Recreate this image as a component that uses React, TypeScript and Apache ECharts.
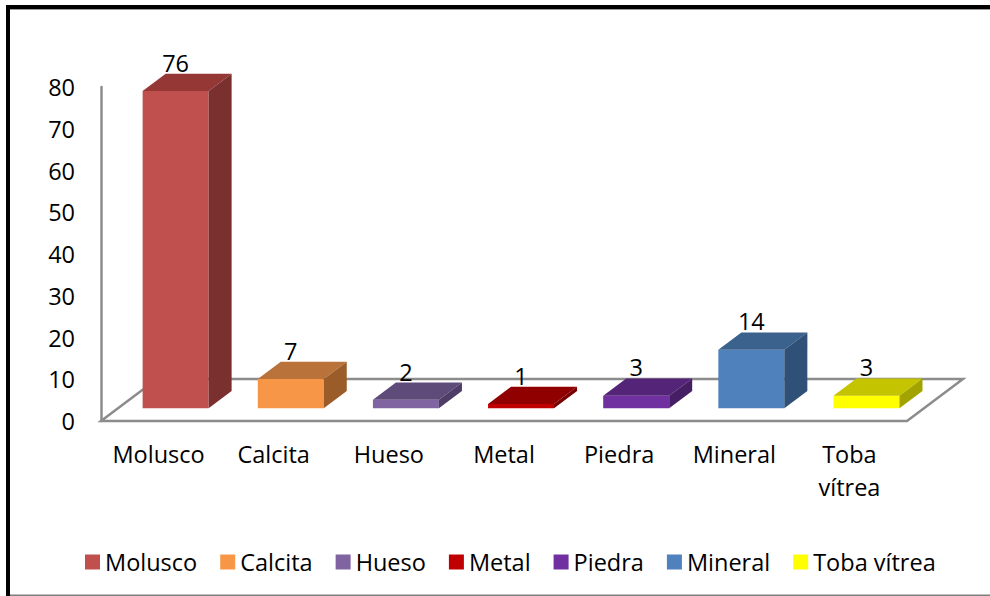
import React, { useEffect, useRef } from "react";
import * as echarts from "echarts";

const categories = ["Molusco", "Calcita", "Hueso", "Metal", "Piedra", "Mineral", "Toba vítrea"];
const values = [76, 7, 2, 1, 3, 14, 3];
const yTicks = { min: 0, max: 80, interval: 10 };

const frontColors = ["#C0504D", "#F79646", "#8064A2", "#C00000", "#7030A0", "#4F81BD", "#FFFF00"];
const topColors = ["#953735", "#B9733A", "#5F4B7A", "#900000", "#542478", "#3B618D", "#C4C400"];
const sideColors = ["#7A302F", "#9A5C29", "#4E3D66", "#780000", "#451E63", "#2F5177", "#A3A300"];

const FONT = "Open Sans";
const FS = 23.5;

export default function App() {
  const ref = useRef<HTMLDivElement>(null);
  useEffect(() => {
    if (!ref.current) return;
    const chart = echarts.init(ref.current, null, { renderer: "svg" });
    const n = categories.length;

    const barSeries = categories.map((name, i) => ({
      type: "custom",
      name,
      color: frontColors[i],
      itemStyle: { color: frontColors[i] },
      z: 3,
      data: [[i, values[i]]],
      renderItem: (params: any, api: any) => {
        const idx = api.value(0);
        const v = api.value(1);
        const c = api.coord([idx, v]);
        const base = api.coord([idx, 0]);
        const band = api.size([1, 0])[0];
        const w = band * 0.573;
        const shift = band * 0.148;
        const shiftY = shift * 0.75;
        const depth = band * 0.2;
        const dD = depth * 0.75;
        const cx = c[0] + shift;
        const x0 = cx - w / 2;
        const x1 = cx + w / 2;
        const yb = base[1] - shiftY;
        const yt = c[1] - shiftY;
        return {
          type: "group",
          children: [
            { type: "rect", shape: { x: x0, y: yt, width: w, height: yb - yt }, style: { fill: frontColors[i] } },
            {
              type: "polygon",
              shape: { points: [[x0, yt], [x1, yt], [x1 + depth, yt - dD], [x0 + depth, yt - dD]] },
              style: { fill: topColors[i] },
            },
            {
              type: "polygon",
              shape: { points: [[x1, yt], [x1, yb], [x1 + depth, yb - dD], [x1 + depth, yt - dD]] },
              style: { fill: sideColors[i] },
            },
            {
              type: "text",
              x: cx,
              y: yt - dD + 1,
              style: {
                text: String(values[i]),
                fill: "#000",
                font: `${FS}px "${FONT}"`,
                align: "center",
                verticalAlign: "bottom",
              },
            },
          ],
        };
      },
    }));

    const floorSeries = {
      type: "custom",
      name: "floor",
      silent: true,
      z: 1,
      data: [[0, 0]],
      renderItem: (params: any, api: any) => {
        const band = api.size([1, 0])[0];
        const a = api.coord([0, 0]);
        const b = api.coord([n - 1, 0]);
        const fl = a[0] - band / 2;
        const fr = b[0] + band / 2;
        const y0 = a[1];
        const fdx = band * 0.486;
        const fdy = fdx * 0.75;
        return {
          type: "polygon",
          shape: { points: [[fl, y0], [fr, y0], [fr + fdx, y0 - fdy], [fl + fdx, y0 - fdy]] },
          style: { fill: "none", stroke: "#8C8C8C", lineWidth: 2.5 },
        };
      },
    };

    chart.setOption({
      animation: false,
      grid: { left: 101, right: 83, top: 87, bottom: 175, containLabel: false, outerBoundsMode: "none" },
      xAxis: {
        type: "category",
        data: categories,
        axisLine: { show: false },
        axisTick: { show: false },
        axisLabel: {
          color: "#000",
          fontFamily: FONT,
          fontSize: FS,
          lineHeight: 33,
          margin: 16,
          interval: 0,
          formatter: (v: string) => v.replace(" ", "\n"),
        },
      },
      yAxis: {
        type: "value",
        min: yTicks.min,
        max: yTicks.max,
        interval: yTicks.interval,
        splitLine: { show: false },
        axisLine: { show: true, lineStyle: { color: "#8C8C8C", width: 2.5 } },
        axisTick: { show: false },
        axisLabel: { color: "#000", fontFamily: FONT, fontSize: FS, margin: 26, padding: [5, 0, 0, 0] },
      },
      legend: {
        data: categories,
        left: 80,
        top: 545,
        icon: "rect",
        itemWidth: 15,
        itemHeight: 15,
        itemGap: 23,
        textStyle: { color: "#000", fontFamily: FONT, fontSize: FS },
      },
      graphic: [
        { type: "rect", shape: { x: 6, y: 5, width: 4, height: 591 }, style: { fill: "#000" } },
        { type: "rect", shape: { x: 6, y: 5, width: 984, height: 4 }, style: { fill: "#000" } },
        { type: "rect", shape: { x: 10, y: 9, width: 980, height: 1 }, style: { fill: "#9A9A9A" } },
        { type: "rect", shape: { x: 10, y: 594.5, width: 980, height: 1.5 }, style: { fill: "#7F7F7F" } },
      ],
      series: [floorSeries, ...barSeries],
    });
    return () => chart.dispose();
  }, []);
  return (
    <div
      ref={ref}
      style={{ position: "fixed", left: 0, top: 0, width: 990, height: 596, background: "#fff" }}
    />
  );
}
